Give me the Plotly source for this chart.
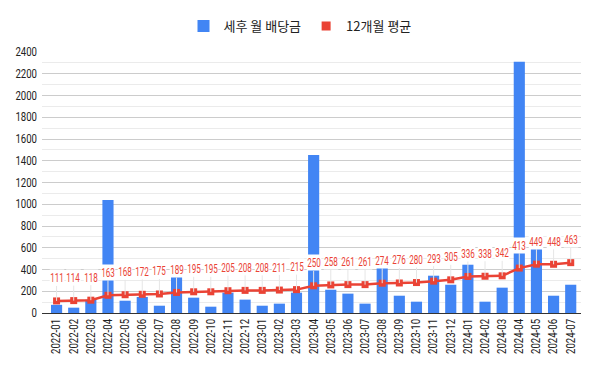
import plotly.graph_objects as go

months = ["2022-01","2022-02","2022-03","2022-04","2022-05","2022-06","2022-07","2022-08",
          "2022-09","2022-10","2022-11","2022-12","2023-01","2023-02","2023-03","2023-04",
          "2023-05","2023-06","2023-07","2023-08","2023-09","2023-10","2023-11","2023-12",
          "2024-01","2024-02","2024-03","2024-04","2024-05","2024-06","2024-07"]
monthly_dividend = [75, 49, 122, 1040, 113, 147, 67, 340, 141, 58, 187, 123, 67, 86, 187, 1452,
                    214, 178, 86, 429, 159, 104, 343, 260, 444, 104, 233, 2310, 613, 159, 260]
avg_12m = [111, 114, 118, 163, 168, 172, 175, 189, 195, 195, 205, 208, 208, 211, 215, 250,
           258, 261, 261, 274, 276, 280, 293, 305, 336, 338, 342, 413, 449, 448, 463]
y_ticks = [0, 200, 400, 600, 800, 1000, 1200, 1400, 1600, 1800, 2000, 2200, 2400]

BLUE = "#4285f4"
RED = "#ea4335"
NUMFONT = "Roboto, sans-serif"
xi = list(range(len(months)))

fig = go.Figure()
fig.add_trace(go.Bar(x=xi, y=monthly_dividend, name="세후 월 배당금",
                     marker=dict(color=BLUE, line=dict(width=0)), width=0.65))
fig.add_trace(go.Scatter(x=xi, y=avg_12m, mode="lines+markers", showlegend=False,
                         line=dict(color=RED, width=2.5),
                         marker=dict(symbol="square", size=7, color=RED)))
fig.add_trace(go.Scatter(x=[None], y=[None], mode="markers", name="12개월 평균",
                         marker=dict(symbol="square", size=9, color=RED)))

for i, v in zip(xi, avg_12m):
    fig.add_annotation(x=i, y=v, text=str(v), showarrow=True, arrowhead=0,
                       arrowwidth=1, arrowcolor="#e6e6e6", ax=0, ay=-23,
                       bgcolor="white", borderpad=0,
                       font=dict(family=NUMFONT, size=13, color=RED))

fig.update_layout(
    width=600, height=371,
    margin=dict(l=42, r=19, t=52, b=58, autoexpand=False),
    plot_bgcolor="white", paper_bgcolor="white",
    font=dict(family="Noto Sans CJK KR, sans-serif", color="#222"),
    legend=dict(orientation="h", xref="container", yref="container",
                x=0.5, xanchor="center", y=0.93, yanchor="middle",
                font=dict(size=13, color="#222"), itemclick=False),
    xaxis=dict(range=[-0.85, 30.6], tickmode="array", tickvals=xi, ticktext=months,
               tickangle=-90, tickfont=dict(family=NUMFONT, size=12, color="#222"),
               showgrid=False, showline=True, linecolor="#333", linewidth=1.3,
               ticks="", ticklen=0, automargin=False),
    yaxis=dict(range=[0, 2400], tickmode="array", tickvals=y_ticks,
               tickfont=dict(family=NUMFONT, size=12, color="#222"),
               showgrid=True, gridcolor="#cccccc", gridwidth=1, automargin=False,
               zeroline=False, showline=False, ticks="", ticklabelstandoff=4,
               minor=dict(tickmode="linear", tick0=0, dtick=100, showgrid=True,
                          gridcolor="#ebebeb", gridwidth=1)),
)

post = """
document.body.style.margin = '0';
var gd = document.getElementById('{plot_id}');
function squeeze(sel, r) {
  gd.querySelectorAll(sel).forEach(function (t) {
    var w = t.getComputedTextLength();
    t.setAttribute('textLength', (w * r).toFixed(2));
    t.setAttribute('lengthAdjust', 'spacingAndGlyphs');
  });
}
var R = 0.62;
gd.querySelectorAll('g.annotation-text-g').forEach(function (g) {
  var t = g.querySelector('text.annotation-text');
  var bg = g.querySelector('rect.bg');
  if (!t || !bg) return;
  var w = t.getComputedTextLength();
  var nw = w * R;
  var ow = parseFloat(bg.getAttribute('width'));
  var ox = parseFloat(bg.getAttribute('x')) || 0;
  var bw = nw + 1;
  bg.setAttribute('x', (ox + (ow - bw) / 2).toFixed(2));
  bg.setAttribute('width', bw.toFixed(2));
});
squeeze('text.annotation-text', R);
squeeze('g.xtick text', 0.8);
squeeze('g.ytick text', 0.8);
"""

fig.write_html("out.html", post_script=post, config={"displayModeBar": False})
